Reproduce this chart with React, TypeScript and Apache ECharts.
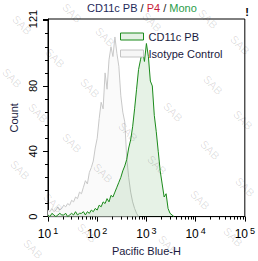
import React, { useEffect, useRef } from "react";
import * as echarts from "echarts";

// Histogram bins: centres in log10(Pacific Blue-H), regular step
const LOG_START = 1.0;
const LOG_STEP = 0.04;

// Isotype Control counts per bin (from 10^1.00 upward)
const isotypeCounts = [
  4, 3, 5, 3, 4, 6, 4, 5, 7, 6,
  8, 7, 10, 9, 12, 11, 15, 14, 18, 22,
  20, 27, 30, 34, 42, 48, 60, 70, 66, 88,
  78, 96, 104, 98, 110, 100, 92, 74, 64, 58,
  36, 24, 15, 9, 5, 2, 0,
];

// CD11c PB counts per bin (from 10^1.00 upward)
const cd11cCounts = [
  1, 0, 2, 1, 0, 1, 2, 1, 1, 2,
  0, 1, 2, 1, 3, 1, 2, 2, 3, 1,
  3, 2, 4, 3, 5, 4, 7, 6, 9, 8,
  11, 9, 13, 12, 15, 18, 21, 24, 28, 31,
  35, 42, 47, 55, 66, 78, 90, 96, 102, 95,
  106, 98, 83, 80, 62, 52, 40, 28, 20, 12,
  14, 5, 2, 1, 0,
];

const seriesNames = ["CD11c PB", "Isotype Control"];
const xDecades = [1, 2, 3, 4, 5];
const yLabelValues = [0, 40, 80, 121];
const titleParts = ["CD11c PB", "P4", "Mono"];

const watermarkSpots: [number, number][] = [
  [22, 25], [72, 13], [105, 37], [152, 22], [208, 19], [240, 45],
  [55, 58], [12, 78], [90, 88], [213, 85], [173, 112], [243, 120],
  [38, 113], [72, 143], [128, 132], [157, 165], [210, 150], [20, 170],
  [103, 173], [245, 187], [53, 203], [200, 200], [87, 233], [233, 237],
  [33, 249], [168, 245],
];

const FONT = "'Liberation Sans', Arial, sans-serif";

function toPoints(counts: number[]) {
  return counts.map((c, i) => [Math.pow(10, LOG_START + i * LOG_STEP), c]);
}

const minorTickValues: number[] = [];
for (let d = xDecades[0]; d < xDecades[xDecades.length - 1]; d++) {
  for (let k = 2; k <= 9; k++) minorTickValues.push(k * Math.pow(10, d));
}

export default function App() {
  const ref = useRef<HTMLDivElement>(null);
  useEffect(() => {
    if (!ref.current) return;
    const chart = echarts.init(ref.current, undefined, { renderer: "svg" });
    const watermarks = watermarkSpots.map(([x, y]) => ({
      type: "text",
      x,
      y,
      rotation: -Math.PI / 4,
      silent: true,
      z: 100,
      style: {
        text: "SAB",
        fontSize: 11,
        fontFamily: FONT,
        fill: "rgba(0,0,0,0.13)",
        align: "center",
        verticalAlign: "middle",
      },
    }));
    chart.setOption({
      animation: false,
      backgroundColor: "#fff",
      textStyle: { fontFamily: FONT },
      title: {
        text: `{a|${titleParts[0]}}{s| / }{b|${titleParts[1]}}{s| / }{c|${titleParts[2]}}`,
        left: 87,
        top: 2,
        padding: 0,
        textStyle: {
          fontSize: 11,
          fontWeight: "normal",
          fontFamily: FONT,
          rich: {
            a: { color: "#1f2a5a", fontSize: 11, fontFamily: FONT },
            s: { color: "#222", fontSize: 11, fontFamily: FONT },
            b: { color: "#c81e3c", fontSize: 11, fontFamily: FONT },
            c: { color: "#2a9d4a", fontSize: 11, fontFamily: FONT },
          },
        },
      },
      legend: {
        orient: "vertical",
        left: 120,
        top: 31,
        padding: 0,
        itemWidth: 23,
        itemHeight: 7,
        itemGap: 6,
        icon: "rect",
        textStyle: { fontSize: 11, color: "#1a1a40", fontFamily: FONT },
        data: [
          {
            name: seriesNames[0],
            itemStyle: { color: "#e4f1e4", borderColor: "#1a8a1a", borderWidth: 1 },
          },
          {
            name: seriesNames[1],
            itemStyle: { color: "#f6f6f6", borderColor: "#c4c4c4", borderWidth: 1 },
          },
        ],
      },
      grid: {
        left: 43,
        right: 13,
        top: 19,
        bottom: 43,
        show: true,
        borderColor: "#000",
        borderWidth: 1,
        backgroundColor: "transparent",
      },
      xAxis: {
        type: "log",
        logBase: 10,
        min: Math.pow(10, xDecades[0]),
        max: Math.pow(10, xDecades[xDecades.length - 1]),
        axisLine: { show: true, lineStyle: { color: "#000", width: 1 } },
        axisTick: { show: true, length: 5, lineStyle: { color: "#000" } },
        axisLabel: {
          color: "#000",
          fontSize: 12,
          margin: 10,
          fontFamily: FONT,
          formatter: (v: number) => `10{e|${Math.round(Math.log10(v))}}`,
          rich: {
            e: { fontSize: 9, verticalAlign: "top", padding: [0, 0, 6, 2], color: "#000", fontFamily: FONT },
          },
        },
        splitLine: { show: false },
        name: "Pacific Blue-H",
        nameLocation: "middle",
        nameGap: 27,
        nameTextStyle: { fontSize: 11, color: "#1a1a40", fontFamily: FONT },
      },
      yAxis: [
        {
          type: "value",
          min: 0,
          max: yLabelValues[yLabelValues.length - 1],
          interval: 40,
          axisLine: { show: true, lineStyle: { color: "#000", width: 1 } },
          axisTick: { show: true, length: 5, lineStyle: { color: "#000" } },
          axisLabel: {
            rotate: 90,
            color: "#000",
            fontSize: 11,
            margin: 10,
            fontFamily: FONT,
            formatter: (v: number) => (yLabelValues.includes(v) ? String(v) : ""),
          },
          splitLine: { show: false },
          name: "Count",
          nameLocation: "middle",
          nameGap: 29,
          nameTextStyle: { fontSize: 11, color: "#1a1a40", fontFamily: FONT },
        },
        {
          type: "value",
          min: 0,
          max: yLabelValues[yLabelValues.length - 1],
          interval: 8,
          position: "left",
          axisLine: { show: false },
          axisTick: { show: true, length: 3, lineStyle: { color: "#000" } },
          axisLabel: { show: false },
          splitLine: { show: false },
        },
      ],
      series: [
        {
          name: seriesNames[1],
          type: "line",
          data: toPoints(isotypeCounts),
          showSymbol: false,
          symbol: "none",
          lineStyle: { color: "#c8c8c8", width: 1 },
          itemStyle: { color: "#c8c8c8" },
          areaStyle: { color: "#fafafa", opacity: 1 },
          z: 2,
        },
        {
          name: seriesNames[0],
          type: "line",
          data: toPoints(cd11cCounts),
          showSymbol: false,
          symbol: "none",
          lineStyle: { color: "#1a8a1a", width: 1 },
          itemStyle: { color: "#1a8a1a" },
          areaStyle: { color: "rgba(26,138,26,0.11)", opacity: 1 },
          z: 3,
        },
        {
          type: "custom",
          silent: true,
          clip: false,
          data: minorTickValues.map((v) => [v, 0]),
          renderItem: (_params: any, api: any) => {
            const p = api.coord([api.value(0), 0]);
            const x = Math.round(p[0]) + 0.5;
            return {
              type: "line",
              shape: { x1: x, y1: p[1], x2: x, y2: p[1] + 3 },
              style: { stroke: "#000", lineWidth: 1 },
            };
          },
          z: 5,
        },
      ],
      graphic: [
        {
          type: "text",
          x: 247,
          y: 12,
          silent: true,
          style: {
            text: "!",
            fontSize: 11,
            fontWeight: "bold",
            fontFamily: FONT,
            fill: "#000",
            align: "center",
            verticalAlign: "middle",
          },
        },
        ...watermarks,
      ],
    });
    return () => chart.dispose();
  }, []);
  return (
    <div
      ref={ref}
      style={{ position: "fixed", left: 0, top: 0, width: 258, height: 261 }}
    />
  );
}
